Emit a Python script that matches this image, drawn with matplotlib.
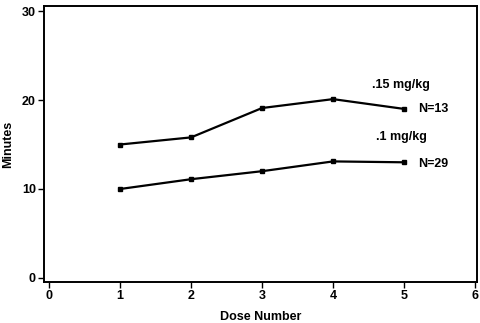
import matplotlib.pyplot as plt

plt.rcParams['font.family'] = ['Liberation Sans', 'DejaVu Sans']
plt.rcParams['font.weight'] = 'bold'

doses = [1, 2, 3, 4, 5]
high_dose = [15.0, 15.8, 19.1, 20.1, 19.0]   # .15 mg/kg, N=13
low_dose = [10.0, 11.1, 12.0, 13.1, 13.0]    # .1 mg/kg, N=29

fig = plt.figure(figsize=(4.8, 3.23), dpi=100)
ax = fig.add_axes([0.092, 0.127, 0.902, 0.854])

ax.plot(doses, high_dose, color='black', lw=1.6, marker='s', ms=3.5)
ax.plot(doses, low_dose, color='black', lw=1.6, marker='s', ms=3.5)

ax.text(4.55, 21.3, '.15 mg/kg', fontsize=9, fontweight='bold')
ax.text(5.2, 18.6, 'N=13', fontsize=9, fontweight='bold')
ax.text(4.6, 15.5, '.1 mg/kg', fontsize=9, fontweight='bold')
ax.text(5.2, 12.5, 'N=29', fontsize=9, fontweight='bold')

ax.set_xlim(-0.07, 6.03)
ax.set_ylim(-0.45, 30.55)
ax.set_xticks(range(0, 7))
ax.set_yticks([0, 10, 20, 30])
ax.tick_params(direction='out', length=4, width=1, labelsize=9, pad=2)
for s in ax.spines.values():
    s.set_linewidth(1.4)

ax.set_xlabel('Dose Number', fontsize=9, fontweight='bold', labelpad=6)
ax.set_ylabel('Minutes', fontsize=9, fontweight='bold')
ax.yaxis.set_label_coords(-0.07, 0.5)

fig.savefig('out.png', dpi=100)
